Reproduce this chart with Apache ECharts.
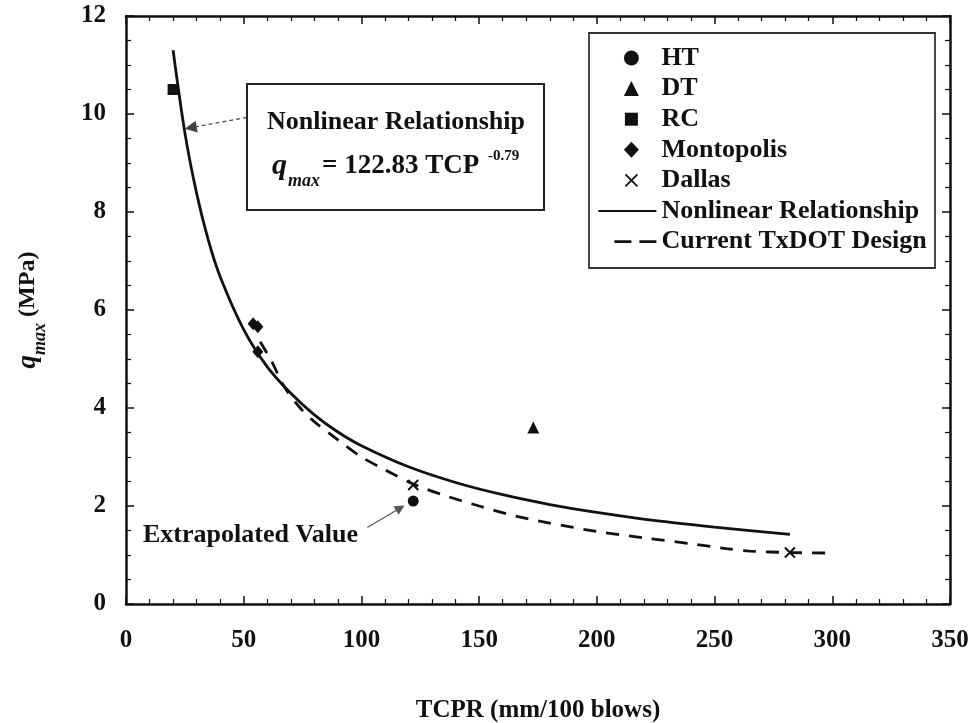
<!DOCTYPE html>
<html>
<head>
<meta charset="utf-8">
<title>qmax vs TCPR</title>
<script src="https://cdn.jsdelivr.net/npm/echarts@6/dist/echarts.min.js"></script>
<style>
  html, body { margin: 0; padding: 0; background: #fff; }
  #main { width: 972px; height: 723px; }
</style>
</head>
<body>
<div id="main"></div>
<script>
// measured points (TCPR mm/100 blows, qmax MPa)
var htData = [[122, 2.1]];
var dtData = [[173, 3.6]];
var rcData = [[20, 10.5]];
var montopolisData = [[54, 5.72], [56, 5.66], [56, 5.15]];
var dallasData = [[122, 2.43], [282, 1.05]];

// curves
var fitX = [20, 25, 30, 35, 40, 50, 60, 70, 80, 90, 100, 120, 140, 160, 180, 200, 225, 250, 282];
var fitY = [11.3, 9.62, 8.38, 7.42, 6.68, 5.6, 4.84, 4.3, 3.86, 3.51, 3.23, 2.8, 2.48, 2.23, 2.03, 1.87, 1.7, 1.57, 1.42];
var txdotX = [57, 62, 67, 74, 80, 90, 100, 110, 122, 135, 150, 165, 180, 200, 220, 240, 255, 265, 282, 300];
var txdotY = [5.35, 4.94, 4.45, 4.0, 3.72, 3.35, 3.0, 2.74, 2.45, 2.22, 2.0, 1.8, 1.65, 1.48, 1.35, 1.23, 1.13, 1.08, 1.05, 1.04];

var xTicks = [0, 50, 100, 150, 200, 250, 300, 350];
var yTicks = [0, 2, 4, 6, 8, 10, 12];

var seriesNames = ['HT', 'DT', 'RC', 'Montopolis', 'Dallas', 'Nonlinear Relationship', 'Current TxDOT Design'];

function zip(xs, ys) {
  return xs.map(function (x, i) { return [x, ys[i]]; });
}

var FONT = '"Liberation Serif", "Times New Roman", serif';
var INK = '#111';
var CROSS = 'path://M0,0L10,10M10,0L0,10';
var HIDDEN = 'rgba(0,0,0,0)';

// legend keys: the leading moves pin the box to the 58x16 key so shapes keep their aspect
var KEY_BOX = 'M0,0M58,16';
var legendIcons = {
  'HT': 'path://' + KEY_BOX + 'M40.5,8A7.5,7.5,0,1,1,25.5,8A7.5,7.5,0,1,1,40.5,8Z',
  'DT': 'path://' + KEY_BOX + 'M25.5,15.5L33,0.5L40.5,15.5Z',
  'RC': 'path://' + KEY_BOX + 'M26.5,1.5L39.5,1.5L39.5,14.5L26.5,14.5Z',
  'Montopolis': 'path://' + KEY_BOX + 'M33,0L40.5,8L33,16L25.5,8Z',
  'Dallas': 'path://' + KEY_BOX + 'M27,2L39,14M39,2L27,14'
};

function frameAxis(pos, isX, withLabels) {
  return {
    type: 'value',
    position: pos,
    min: 0,
    max: isX ? xTicks[xTicks.length - 1] : yTicks[yTicks.length - 1],
    interval: isX ? xTicks[1] - xTicks[0] : yTicks[1] - yTicks[0],
    axisLine: { show: true, onZero: false, lineStyle: { color: INK, width: 2.5 } },
    axisTick: { show: true, inside: true, length: 8, lineStyle: { color: INK, width: 1.5 } },
    minorTick: { show: true, splitNumber: isX ? 5 : 4, length: 5, lineStyle: { color: INK, width: 1.2 } },
    splitLine: { show: false },
    axisLabel: {
      show: withLabels,
      color: INK,
      fontFamily: FONT,
      fontWeight: 'bold',
      fontSize: 25,
      margin: isX ? 24 : 20
    }
  };
}

var xMain = frameAxis('bottom', true, true);
xMain.name = 'TCPR (mm/100 blows)';
xMain.nameLocation = 'middle';
xMain.nameGap = 94;
xMain.nameTextStyle = { color: INK, fontFamily: FONT, fontWeight: 'bold', fontSize: 25 };

var yMain = frameAxis('left', false, true);
yMain.name = '{q|q}{sub|max}{u| (MPa)}';
yMain.nameLocation = 'middle';
yMain.nameGap = 86;
yMain.nameTextStyle = {
  color: INK,
  fontFamily: FONT,
  fontWeight: 'bold',
  fontSize: 24,
  rich: {
    q: { fontFamily: FONT, fontWeight: 'bold', fontStyle: 'italic', fontSize: 27, lineHeight: 24, color: INK },
    sub: { fontFamily: FONT, fontWeight: 'bold', fontStyle: 'italic', fontSize: 18, lineHeight: 16, padding: [24, 0, 0, 0], color: INK },
    u: { fontFamily: FONT, fontWeight: 'bold', fontSize: 24, lineHeight: 24, color: INK }
  }
};

var legendData = seriesNames.map(function (n) {
  if (n === 'Dallas') {
    return { name: n, icon: legendIcons[n], itemStyle: { color: INK, borderColor: INK, borderWidth: 1.8, opacity: 1 } };
  }
  if (legendIcons[n]) return { name: n, icon: legendIcons[n], itemStyle: { color: INK, opacity: 1 } };
  var item = { name: n, itemStyle: { color: HIDDEN, borderColor: HIDDEN, borderWidth: 0 } };
  if (n === 'Current TxDOT Design') {
    item.lineStyle = { color: INK, width: 2.8, type: [17, 8, 17, 16], dashOffset: 42 };
  }
  return item;
});

var chart = echarts.init(document.getElementById('main'), null, { renderer: 'canvas' });

var dot = { color: INK, opacity: 1 };

var option = {
  backgroundColor: '#fff',
  animation: false,
  grid: { left: 126, right: 22, top: 16, bottom: 119, outerBoundsMode: 'none' },
  xAxis: [xMain, frameAxis('top', true, false)],
  yAxis: [yMain, frameAxis('right', false, false)],
  legend: {
    orient: 'vertical',
    left: 597,
    top: 45,
    padding: 0,
    itemWidth: 58,
    itemHeight: 16,
    itemGap: 4.6,
    selectedMode: false,
    data: legendData,
    textStyle: { color: INK, fontFamily: FONT, fontWeight: 'bold', fontSize: 26 }
  },
  graphic: [
    // legend frame
    {
      type: 'rect', z: 1, silent: true,
      shape: { x: 589, y: 33, width: 346, height: 235 },
      style: { fill: '#fff', stroke: '#333', lineWidth: 1.8 }
    },
    // equation box
    {
      type: 'rect', z: 1, silent: true,
      shape: { x: 247, y: 84, width: 297, height: 126 },
      style: { fill: '#fff', stroke: '#222', lineWidth: 2 }
    },
    {
      type: 'text', z: 2, silent: true, x: 396, y: 122,
      style: {
        text: 'Nonlinear Relationship',
        font: 'bold 26px ' + FONT,
        fill: INK,
        align: 'center',
        verticalAlign: 'middle'
      }
    },
    {
      type: 'text', z: 2, silent: true, x: 272, y: 166,
      style: {
        text: '{q|q}{sub|max}{eq|= 122.83 TCP }{sup|-0.79}',
        fill: INK,
        align: 'left',
        verticalAlign: 'middle',
        rich: {
          q: { font: 'bold italic 30px ' + FONT, lineHeight: 26, fill: INK },
          sub: { font: 'bold italic 18px ' + FONT, lineHeight: 16, padding: [30, 2, 0, 1], fill: INK },
          eq: { font: 'bold 27px ' + FONT, lineHeight: 26, fill: INK },
          sup: { font: 'bold 15px ' + FONT, lineHeight: 14, padding: [0, 0, 20, 2], fill: INK }
        }
      }
    },
    {
      type: 'text', z: 2, silent: true, x: 143, y: 535,
      style: {
        text: 'Extrapolated Value',
        font: 'bold 26px ' + FONT,
        fill: INK,
        align: 'left',
        verticalAlign: 'middle'
      }
    }
  ],
  series: [
    {
      name: 'HT', type: 'scatter', data: htData, z: 5,
      symbol: 'circle', symbolSize: 11,
      itemStyle: dot
    },
    {
      name: 'DT', type: 'scatter', data: dtData, z: 5,
      symbol: 'triangle', symbolSize: 12,
      itemStyle: dot
    },
    {
      name: 'RC', type: 'scatter', data: rcData, z: 5,
      symbol: 'rect', symbolSize: 11,
      itemStyle: dot
    },
    {
      name: 'Montopolis', type: 'scatter', data: montopolisData, z: 5,
      symbol: 'diamond', symbolSize: [11, 13],
      itemStyle: dot
    },
    {
      name: 'Dallas', type: 'scatter', data: dallasData, z: 5,
      symbol: CROSS, symbolSize: 10, symbolKeepAspect: true,
      itemStyle: { color: INK, borderColor: INK, borderWidth: 2, opacity: 1 }
    },
    {
      name: 'Nonlinear Relationship', type: 'line', data: zip(fitX, fitY), z: 4,
      smooth: 0.3, symbol: 'none',
      lineStyle: { color: INK, width: 2.8 },
      itemStyle: { color: INK },
      markLine: {
        silent: true, z: 3,
        symbol: ['none', 'triangle'],
        symbolSize: 12,
        label: { show: false },
        lineStyle: { color: '#444', width: 1.2, type: [4, 3] },
        data: [
          [{ coord: [51.4, 9.93] }, { coord: [27.5, 9.72] }]
        ]
      }
    },
    {
      name: 'Current TxDOT Design', type: 'line', data: zip(txdotX, txdotY), z: 4,
      smooth: 0.3, symbol: 'none',
      lineStyle: { color: INK, width: 2.8, type: [13, 10] },
      itemStyle: { color: INK },
      markLine: {
        silent: true, z: 3,
        symbol: ['none', 'triangle'],
        symbolSize: 10,
        label: { show: false },
        lineStyle: { color: '#555', width: 1.2, type: 'solid' },
        data: [
          [{ coord: [102.5, 1.56] }, { coord: [116.5, 1.96] }]
        ]
      }
    }
  ]
};

chart.setOption(option);
</script>
</body>
</html>
